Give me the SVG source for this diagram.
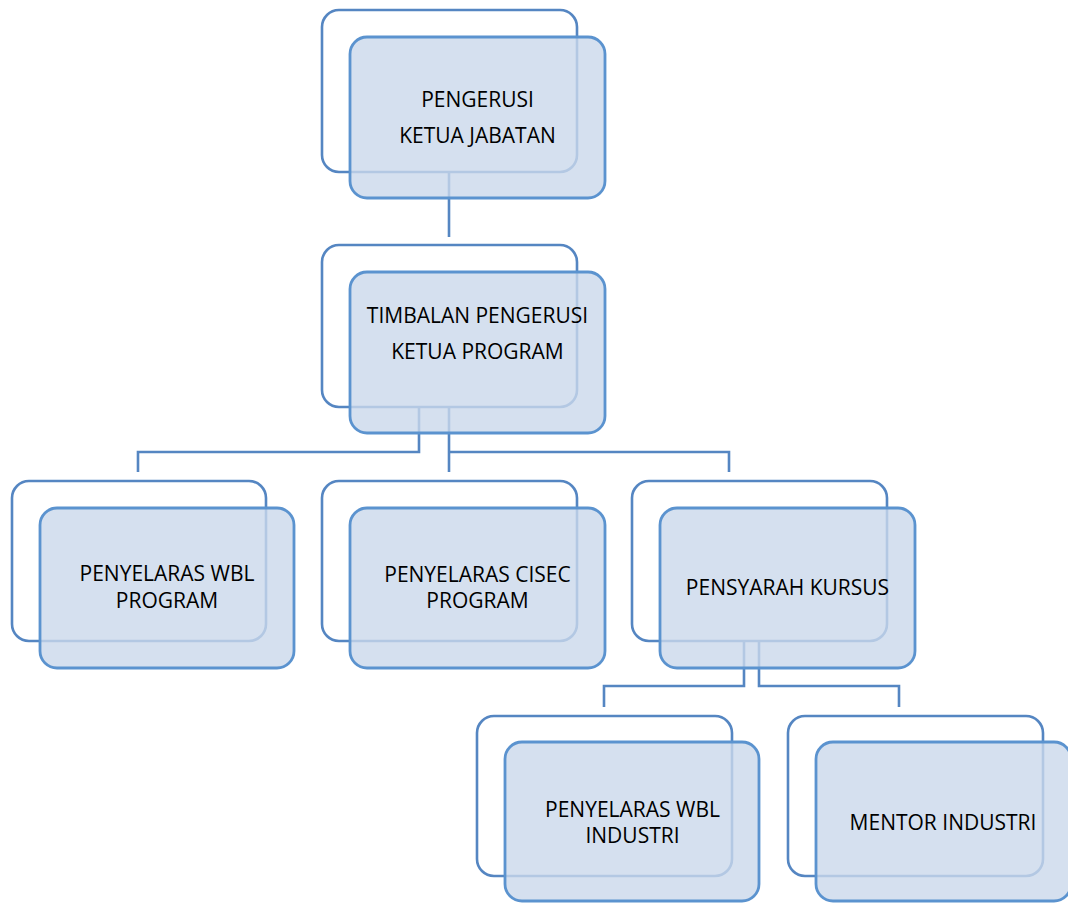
<svg xmlns="http://www.w3.org/2000/svg" width="1068" height="903" viewBox="0 0 1068 903">
<style>
.back{fill:#ffffff;stroke:#5586c2;stroke-width:2.6}
.front{fill:#cad8eb;fill-opacity:0.8;stroke:#5b93cf;stroke-width:2.8}
.conn{fill:none;stroke:#5586c2;stroke-width:2.6}
text{font-family:"Open Sans","Liberation Sans",sans-serif;font-size:21px;fill:#000000;text-anchor:middle}
</style>
<rect width="1068" height="903" fill="#ffffff"/>
<g id="connectors">
<path class="conn" d="M449,172 V237"/>
<path class="conn" d="M419,406 V452 H138 V472"/>
<path class="conn" d="M449,406 V472"/>
<path class="conn" d="M449,452 H729 V472"/>
<path class="conn" d="M744,640 V686 H604 V707"/>
<path class="conn" d="M759,640 V686 H899 V707"/>
</g>
<g id="node-pengerusi">
<rect class="back" x="322" y="10" width="255" height="162" rx="17"/>
<rect class="front" x="350" y="37" width="255" height="161" rx="17"/>
<text x="477.5" y="107">PENGERUSI</text>
<text x="477.5" y="143">KETUA JABATAN</text>
</g>
<g id="node-timbalan">
<rect class="back" x="322" y="245" width="255" height="162" rx="17"/>
<rect class="front" x="350" y="272" width="255" height="161" rx="17"/>
<text x="477.5" y="323">TIMBALAN PENGERUSI</text>
<text x="477.5" y="359">KETUA PROGRAM</text>
</g>
<g id="node-wbl-program">
<rect class="back" x="12" y="481" width="254" height="160" rx="17"/>
<rect class="front" x="40" y="508" width="254" height="160" rx="17"/>
<text x="167" y="581">PENYELARAS WBL</text>
<text x="167" y="608">PROGRAM</text>
</g>
<g id="node-cisec">
<rect class="back" x="322" y="481" width="255" height="160" rx="17"/>
<rect class="front" x="350" y="508" width="255" height="160" rx="17"/>
<text x="477.5" y="582">PENYELARAS CISEC</text>
<text x="477.5" y="608">PROGRAM</text>
</g>
<g id="node-pensyarah">
<rect class="back" x="632" y="481" width="255" height="160" rx="17"/>
<rect class="front" x="660" y="508" width="255" height="160" rx="17"/>
<text x="787.5" y="595">PENSYARAH KURSUS</text>
</g>
<g id="node-wbl-industri">
<rect class="back" x="477" y="716" width="255" height="160" rx="17"/>
<rect class="front" x="505" y="742" width="254" height="159" rx="17"/>
<text x="632.5" y="817">PENYELARAS WBL</text>
<text x="632.5" y="843">INDUSTRI</text>
</g>
<g id="node-mentor">
<rect class="back" x="788" y="716" width="255" height="160" rx="17"/>
<rect class="front" x="816" y="742" width="255" height="159" rx="17"/>
<text x="943" y="830">MENTOR INDUSTRI</text>
</g>
</svg>
